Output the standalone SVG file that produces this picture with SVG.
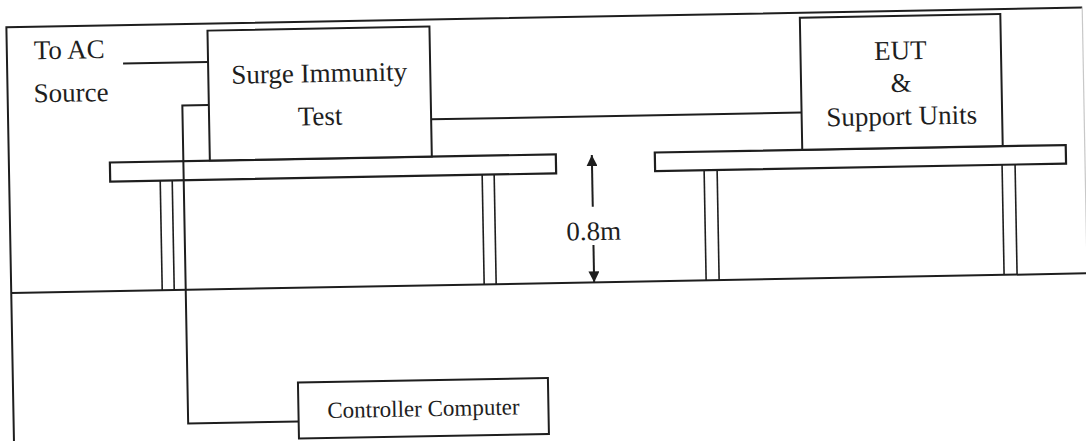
<svg xmlns="http://www.w3.org/2000/svg" width="1086" height="441" viewBox="0 0 1086 441">
  <defs>
    <marker id="head" viewBox="0 0 10 10" refX="10" refY="5" markerUnits="userSpaceOnUse" markerWidth="11" markerHeight="11" orient="auto">
      <path d="M0,0 L10,5 L0,10 z" fill="#1e1e1e"/>
    </marker>
  </defs>
  <style>
    .ln { fill: none; stroke: #1e1e1e; stroke-width: 2; }
    .thin { fill: none; stroke: #1e1e1e; stroke-width: 1.6; }
    .box { fill: #ffffff; stroke: #1e1e1e; stroke-width: 2; }
    .tbl { fill: #ffffff; stroke: #1e1e1e; stroke-width: 2.2; }
    text { font-family: 'Liberation Serif', 'DejaVu Serif', 'Noto Serif', serif; font-size: 27px; fill: #1e1e1e; }
    .mid { text-anchor: middle; }
    .small { font-size: 23px; }
  </style>
  <rect x="0" y="0" width="1086" height="441" fill="#ffffff"/>
  <g transform="rotate(-1.05 543 220)">
    <g id="frame">
      <path class="ln" d="M10,470 L10,17.5 L1086,17.5" stroke-width="2.6"/>
      <line x1="1086" y1="17.5" x2="1086" y2="470" stroke="#c8c8c8" stroke-width="1.2"/>
    </g>
    <g id="floor">
      <line class="ln" x1="10" y1="283.3" x2="1100" y2="283.3" stroke-width="2.4"/>
    </g>
    <g id="table-left">
      <line class="thin" x1="161" y1="173.6" x2="161" y2="283.3"/>
      <line class="thin" x1="173" y1="173.6" x2="173" y2="283.3"/>
      <line class="thin" x1="483" y1="173.6" x2="483" y2="283.3"/>
      <line class="thin" x1="495" y1="173.6" x2="495" y2="283.3"/>
      <rect class="tbl" x="111" y="154.6" width="446" height="19"/>
    </g>
    <g id="table-right">
      <line class="thin" x1="705" y1="173" x2="705" y2="283.3"/>
      <line class="thin" x1="718" y1="173" x2="718" y2="283.3"/>
      <line class="thin" x1="1003" y1="173" x2="1003" y2="283.3"/>
      <line class="thin" x1="1016" y1="173" x2="1016" y2="283.3"/>
      <rect class="tbl" x="656" y="154.6" width="411" height="18.6"/>
    </g>
    <g id="ac-source">
      <text x="37" y="50">To AC</text>
      <text x="36" y="93">Source</text>
    </g>
    <g id="surge-test">
      <rect class="box" x="211" y="24.5" width="222" height="130"/>
      <text class="mid" x="322" y="78">Surge Immunity</text>
      <text class="mid" x="322" y="121">Test</text>
    </g>
    <g id="eut">
      <rect class="box" x="803.5" y="22.5" width="200.5" height="132"/>
      <text class="mid" x="903.5" y="66">EUT</text>
      <text class="mid" x="903.5" y="98.5">&amp;</text>
      <text class="mid" x="903.5" y="131.5">Support Units</text>
    </g>
    <g id="controller">
      <rect class="box" x="295" y="378" width="250" height="56"/>
      <text class="mid small" x="420" y="414">Controller Computer</text>
    </g>
    <g id="height-dim">
      <line class="ln" x1="593" y1="207.6" x2="593" y2="156" marker-end="url(#head)"/>
      <text class="mid" x="593.5" y="241">0.8m</text>
      <line class="ln" x1="593" y1="246" x2="593" y2="283.3" marker-end="url(#head)"/>
    </g>
    <g id="connectors">
      <polyline class="ln" points="126,55.8 211,55.8"/>
      <polyline class="ln" points="211,98.9 184.5,98.9 184.5,417 295,417"/>
      <polyline class="ln" points="433,117.3 803.5,117.3"/>
    </g>
  </g>
</svg>
